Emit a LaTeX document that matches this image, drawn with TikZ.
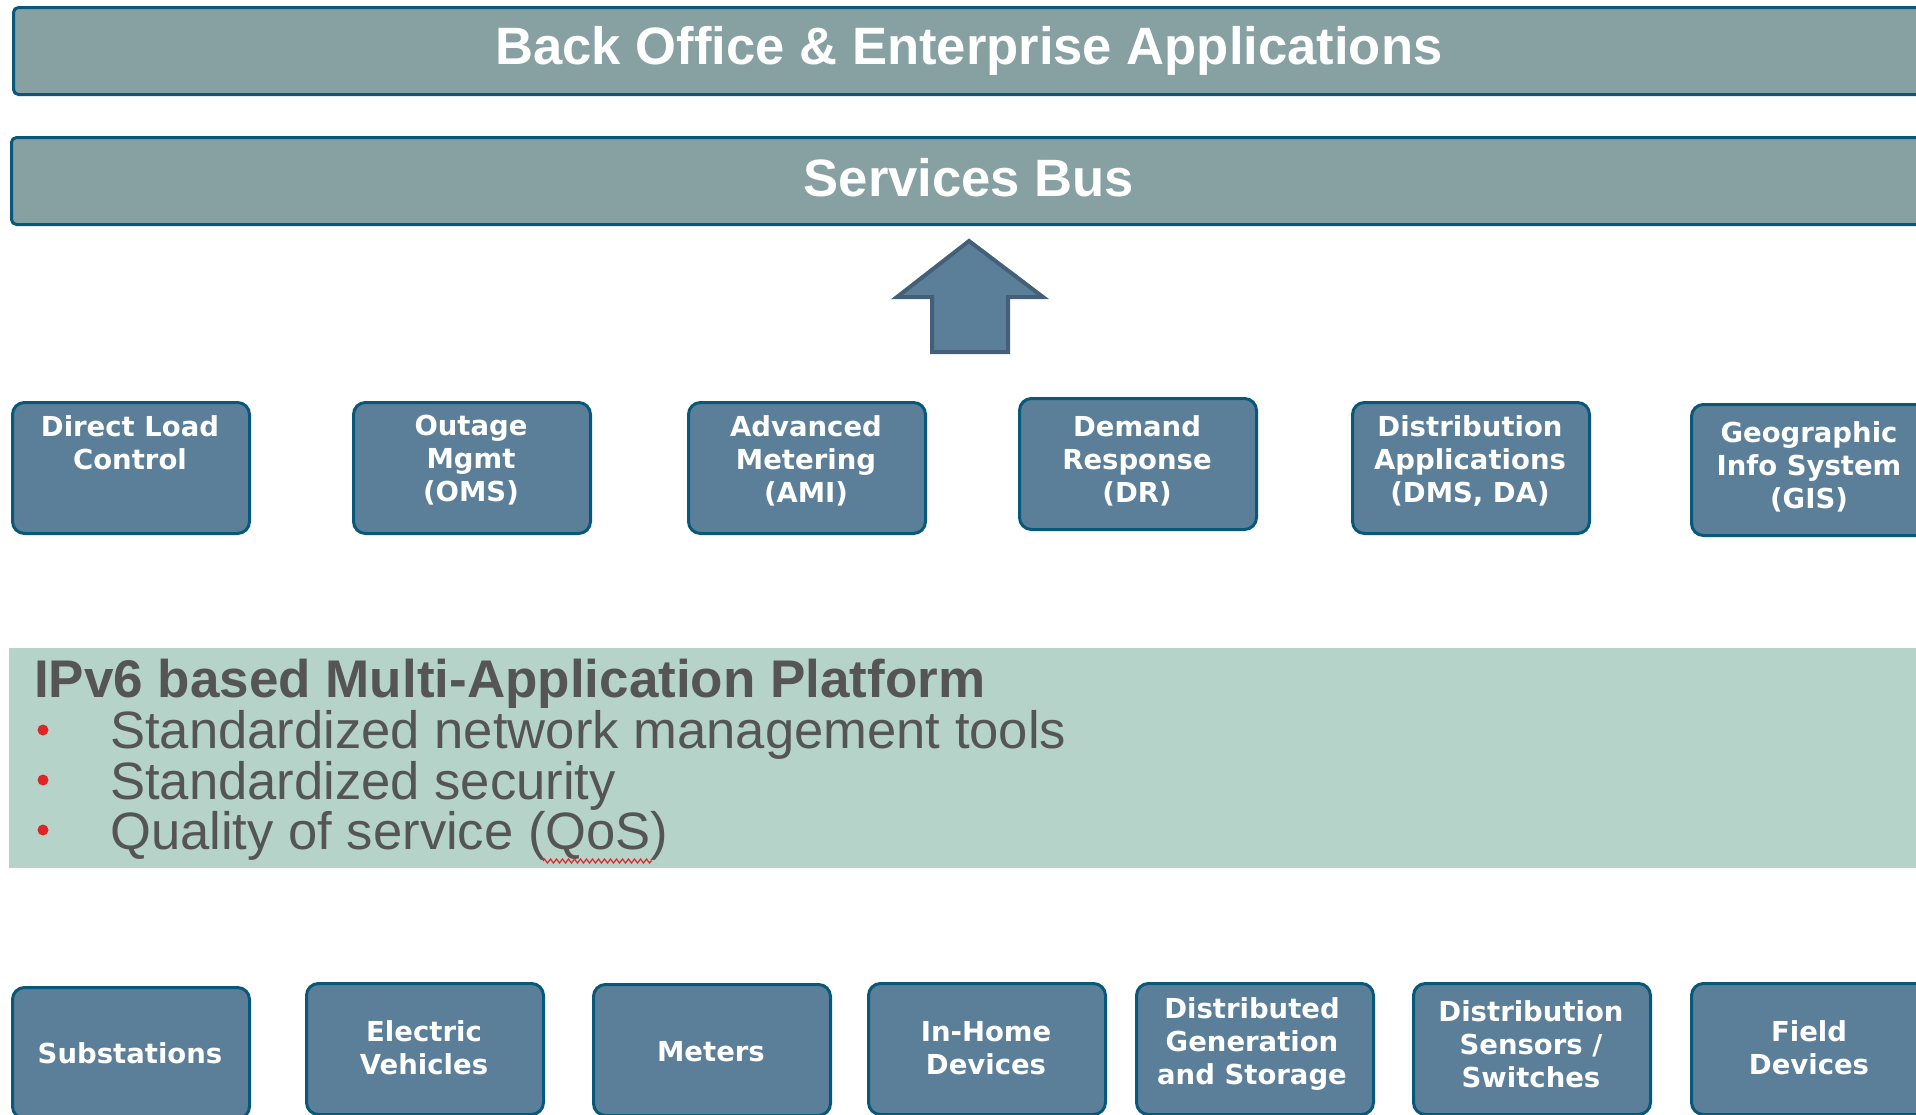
\documentclass[tikz,border=0pt]{standalone}
\usepackage{fontspec}
\setmainfont{Liberation Sans}
\newfontfamily\boxfont{DejaVu Sans}
\usetikzlibrary{decorations.pathmorphing}
\definecolor{barfill}{RGB}{135,160,162}
\definecolor{barline}{RGB}{8,88,122}
\definecolor{boxfill}{RGB}{91,127,153}
\definecolor{arrowline}{RGB}{68,96,120}
\definecolor{platfill}{RGB}{181,211,201}
\definecolor{plattext}{RGB}{85,85,85}
\definecolor{bulletred}{RGB}{222,38,38}
\begin{document}
\begin{tikzpicture}[x=1pt,y=-1pt,
  bar/.style={draw=barline, line width=3pt, fill=barfill, rounded corners=5pt,
    anchor=north west, inner sep=0pt, minimum width=1930pt, minimum height=87pt},
  bartext/.style={text=white, font=\fontsize{52.6}{60}\selectfont\bfseries, inner sep=0pt, anchor=base},
  appbox/.style={draw=barline, line width=3pt, fill=boxfill, rounded corners=12pt,
    anchor=north west, minimum width=237pt, minimum height=131pt, inner sep=0pt},
  boxtext/.style={text=white, font=\boxfont\bfseries\fontsize{27.5}{33}\selectfont,
    align=center, inner sep=0pt},
  plat/.style={fill=platfill, anchor=north west, minimum width=1920pt, minimum height=220pt, inner sep=0pt},
  plattitle/.style={text=plattext, font=\fontsize{53}{60}\selectfont\bfseries, anchor=base west, inner sep=0pt},
  platitem/.style={text=plattext, font=\fontsize{52.6}{60}\selectfont, anchor=base west, inner sep=0pt},
  dot/.style={circle, fill=bulletred, inner sep=0pt, minimum size=11pt},
  blockarrow/.style={fill=boxfill, draw=arrowline, line width=4pt, miter limit=10}]
\useasboundingbox (0,0) rectangle (1916,1114);
\clip (0,0) rectangle (1916,1114);

% bars
\node[bar] (back) at (12,6) {};
\node[bartext] (backtxt) at (969,64) {Back Office \& Enterprise Applications};
\node[bar] (bus) at (10,136) {};
\node[bartext] (bustxt) at (969,196) {Services Bus};

% block arrow
\coordinate (tip) at (969,241);
\draw[blockarrow] (tip) -- (1043,297) -- (1008,297) -- (1008,352) -- (932,352)
  -- (932,297) -- (897,297) -- cycle;

% application boxes
\node[appbox] (dlc) at (11,401) {};
\node[appbox] (oms) at (352,401) {};
\node[appbox] (ami) at (687,401) {};
\node[appbox] (dr)  at (1018,397) {};
\node[appbox] (dms) at (1351,401) {};
\node[appbox] (gis) at (1690,403) {};
\node[boxtext, anchor=north] (dlct) at (130,415) {Direct Load\\Control};
\node[boxtext, anchor=north] (omst) at (471,415) {Outage\\Mgmt\\(OMS)};
\node[boxtext, anchor=north] (amit) at (806,415) {Advanced\\Metering\\(AMI)};
\node[boxtext, anchor=north] (drt)  at (1137,415) {Demand\\Response\\(DR)};
\node[boxtext, anchor=north] (dmst) at (1470,415) {Distribution\\Applications\\(DMS, DA)};
\node[boxtext, anchor=north] (gist) at (1809,421) {Geographic\\Info System\\(GIS)};

% platform
\node[plat] (platform) at (9,648) {};
\node[plattitle] (ptitle) at (34,697) {IPv6 based Multi-Application Platform};
\node[dot] (d1) at (43,730) {};
\node[dot] (d2) at (43,780) {};
\node[dot] (d3) at (43,830) {};
\node[platitem] (b1) at (110,748) {Standardized network management tools};
\node[platitem] (b2) at (110,799) {Standardized security};
\node[platitem] (b3) at (110,849) {Quality of service (QoS)};
\coordinate (sqa) at (543,861);
\coordinate (sqb) at (652,861);
\draw[bulletred, line width=1.2pt, decorate, decoration={zigzag, amplitude=2pt, segment length=6pt}] (sqa) -- (sqb);

% device boxes
\node[appbox] (sub)  at (11,986) {};
\node[appbox] (ev)   at (305,982) {};
\node[appbox] (met)  at (592,983) {};
\node[appbox] (ihd)  at (867,982) {};
\node[appbox] (dgs)  at (1135,982) {};
\node[appbox] (dss)  at (1412,982) {};
\node[appbox] (fld)  at (1690,982) {};
\node[boxtext] (subt) at (130,1053) {Substations};
\node[boxtext] (evt)  at (424,1048) {Electric\\Vehicles};
\node[boxtext] (mett) at (711,1052) {Meters};
\node[boxtext] (ihdt) at (986,1048) {In-Home\\Devices};
\node[boxtext] (dgst) at (1252,1044) {Distributed\\Generation\\and Storage};
\node[boxtext] (dsst) at (1531,1044) {Distribution\\Sensors /\\Switches};
\node[boxtext] (fldt) at (1809,1048) {Field\\Devices};
\end{tikzpicture}
\end{document}
